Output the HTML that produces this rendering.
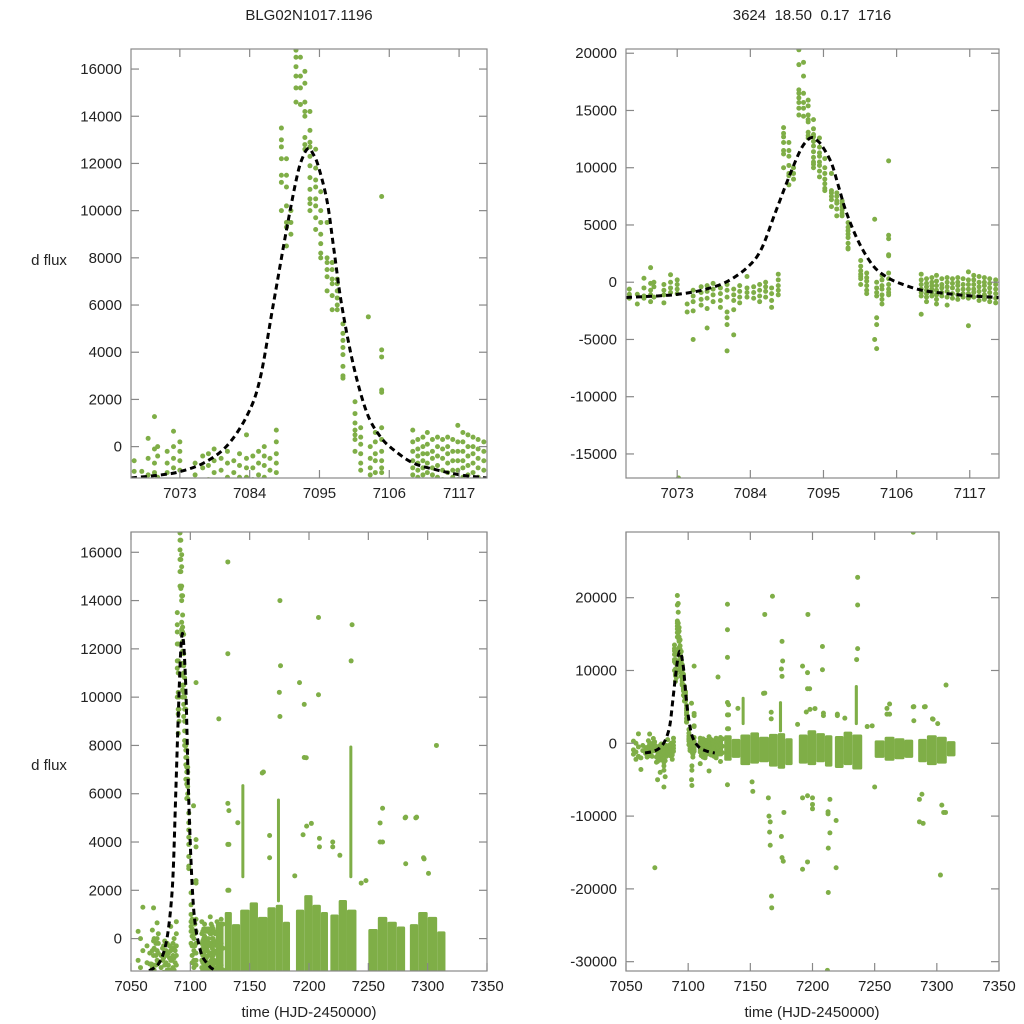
<!DOCTYPE html>
<html><head><meta charset="utf-8"><style>
html,body{margin:0;padding:0;background:#fff;width:1024px;height:1024px;overflow:hidden;}
svg{display:block;font-family:"Liberation Sans",sans-serif;}
</style></head><body>
<svg id="chart" width="1024" height="1024" viewBox="0 0 1024 1024">
<rect x="0" y="0" width="1024" height="1024" fill="#fff"/>
<text x="309" y="20" text-anchor="middle" font-size="15" fill="#222">BLG02N1017.1196</text>
<text x="812" y="20" text-anchor="middle" font-size="15" fill="#222" xml:space="preserve">3624  18.50  0.17  1716</text>
<text x="49" y="265" text-anchor="middle" font-size="15" fill="#222">d flux</text>
<text x="49" y="770" text-anchor="middle" font-size="15" fill="#222">d flux</text>
<text x="309" y="1017" text-anchor="middle" font-size="15" fill="#222">time (HJD-2450000)</text>
<text x="812" y="1017" text-anchor="middle" font-size="15" fill="#222">time (HJD-2450000)</text>
</svg>
<script>
// ---- data ----
const groupTime=[7065.8,7067.0,7068.0,7069.0,7069.5,7071.0,7072.0,7073.0,7074.5,7075.4,7076.6,7077.5,7078.4,7079.5,7080.5,7081.5,7082.4,7083.5,7084.5,7085.4,7086.3,7087.2,7088.2,
7089.0,7089.8,7090.5,7091.3,7092.0,7092.7,7093.5,7094.4,7095.2,7096.2,7097.0,7097.8,7098.7,7100.6,7101.5,7102.7,7103.0,7103.8,7104.8,
7109.7,7110.5,7111.3,7112.0,7112.8,7113.6,7114.4,7115.2,7116.0,7116.8,7117.6,7118.4,7119.2,7120.0,7120.9,
7056,7058,7060,7062,7063.5,7122.5,7124,7126,7127.5];
const groupFlux=[
[-600,-1050,-1400],[-1050,-1900],[350,-500,-1200,-1400],[1270,-100,-700,-1100,-1700],[0,-400,-1300],[-200,-700,-1100,-1800],[650,0,-500,-900],[200,-200,-600,-1000],
[-1900,-2600],[-700,-1200,-1700,-2500,-5000],[-400,-900,-1500,-2000],[-300,-800,-1400,-2300,-4000],[-100,-600,-1100,-1700],[-500,-1000,-1600,-2200],
[-200,-700,-1300,-2600,-3100,-3700,-6000],[-600,-1100,-1600,-2400,-4600],[-300,-800,-1300,-1800],[500,-500,-900,-1300],[-400,-900,-1400],[-200,-700,-1200,-1700],
[0,-400,-800,-1300],[-500,-1000,-1600,-2200],[700,200,-300,-700,-1100],
[13500,13000,12700,12200,11500,11200,10000],[12200,11500,11000,10200,9500,9300,8500],[10000,9500,9000],
[20300,19000,16800,16500,16100,15700,15200,14600],[19200,18000,16500,15700,15200,14500],[15900,15400,14600,14200,14000,13100,12800,12600],
[14200,13400,12900,12700,12300,11900,11400,10900,10500,10300,10000],[12600,11800,11300,11000,10500,10200,9700,9200],[10800,10000,9500,9000,8600,8200,8000],
[9500,8000,7800,7500,7200,6600],[7800,7500,7100,6900,6400,5800],[7100,6900,6600,6300,6000,5800],[5200,4800,4500,4200,3900,3400,3000,2900],
[1900,1400,1000,700,500,300,-200],[800,400,100,-300,-700,-1000],[5500,-5000],[0,-500,-900,-1200,-3100,-3700,-5800],[600,200,-300,-600,-1100,-1500,-1900],
[10600,4100,3800,2400,2300,800,300,-200,-600,-900,-1100],
[-2800,700,200,-200,-600,-900,-1200],[300,-100,-400,-700,-1000,-1300,-1700],[400,0,-300,-600,-900,-1200],[600,100,-300,-700,-1100,-1500,-1900],[300,-200,-500,-900,-1200],
[400,0,-400,-800,-1300,-2000],[300,-100,-500,-1000,-1400],[400,0,-300,-700,-1100,-1500],[300,-200,-600,-1000,-1300],[900,200,-200,-600,-1000,-1400,-3800],
[600,200,-200,-600,-900,-1300],[500,0,-400,-800,-1200,-1600],[400,0,-300,-700,-1100,-1500],[300,-100,-500,-900,-1300,-1700],[200,-200,-600,-1000,-1400,-1800],
[-900,-1500,300],[-2200,-1200,0],[-1800,-500,1300],[-3600,-2000],[-1000,-300],[700,-300,-1200,-2000],[9100,500,-500,-1500],[800,-200,-1100,-2500],[600,-400,-1300]];
const extraTime=[7073.2,7131.6,7131.6,7131.6,7131.6,7131.6,7131.6,7131.6,7161.6,7161.6,7167.8,7175.5,7176,7175,7175.5,7165,7165.5,7166,7167,7167.2,7164.5,7166,
7175,7175.5,7176.5,7177,7196.3,7192,7196,7196,7208,7208,7192,7196,7192,7196,7200,7200,7200,7212.7,7212.7,7212.5,7212.5,7214,7214,7219,7219,
7236.3,7236.3,7236.3,7235.5,7281,7262,7262,7281,7290,7286,7289,7286,7288,7307.4,7302.9,7304,7305.5,7307,7297,7300.7,7151.4,7152,7250,7212,
7160.6,7166.8,7166.8,7197.7,7202,7195,7208.8,7208.8,7220,7220,7226,7259.9,7259.9,7281.5,7290.7,7281.5,7296.5,7198,7132.5,7132.5,7132.5,7140,7188,7244,7248];
const extraFlux=[-17100,19100,15600,11800,5600,3900,-5700,2000,6900,17700,20200,14000,11300,10200,9200,-10000,-12200,-14000,-21000,-22600,-7500,-10800,
-12800,-15700,-16200,-9500,17700,10600,9700,7500,13300,10100,-17300,-16300,-7500,-7200,-7500,-8400,-9000,-20500,-14400,-9400,-9700,-12300,-7700,-17100,-10600,
22800,19000,13000,11500,29000,5400,4000,5000,5000,-10800,-11000,-7700,-7000,8000,-18100,-8500,-9500,-9500,3300,2700,-5300,-6600,-6000,-31200,
6860,4270,3350,7490,4770,4300,4150,3800,4000,3800,3450,4790,4000,5030,5030,3100,3350,4660,5300,3900,2000,4800,2600,2300,2400];
const bandStart=[7121.5,7129,7135,7142,7150,7157,7165,7172,7178,7189,7196,7203,7210,7218,7225,7232,7250,7258,7266,7274,7285,7292,7300,7308,7143,7173,7234];
const bandEnd  =[7128,7135,7142,7150,7157,7165,7172,7178,7184,7196,7203,7210,7216,7225,7232,7240,7258,7266,7274,7281,7292,7300,7308,7315,7145,7175.5,7236.5];
const bandLow  =[-1800,-2400,-2000,-3000,-2800,-2600,-3200,-3500,-3000,-2800,-3000,-2600,-3200,-3400,-3000,-3600,-2000,-2400,-2200,-2000,-2600,-3000,-2800,-1800,2500,1500,2500];
const bandHigh =[700,1100,600,1200,1500,900,1300,1400,700,1200,1800,1400,1100,1000,1600,1200,400,900,700,500,600,1100,900,300,6400,5800,8000];
const modelTime=[7065.3,7070,7073,7076.7,7080.3,7083.5,7085.6,7087.7,7089.8,7091.5,7092.5,7093.3,7094.0,7094.8,7096.2,7097.3,7098.5,7100.4,7102.5,7104.6,7106.7,7109.8,7113.5,7117.2,7121.4];
const modelFlux=[-1330,-1200,-1060,-700,0,1270,2830,5990,9180,11500,12350,12640,12400,11900,10400,8300,6000,3390,1415,420,-140,-700,-990,-1200,-1330];
// ---- tick label arrays ----
const zoomXTicks=[7073,7084,7095,7106,7117];
const fullXTicks=[7050,7100,7150,7200,7250,7300,7350];
const tlYTicks=[0,2000,4000,6000,8000,10000,12000,14000,16000];
const trYTicks=[-15000,-10000,-5000,0,5000,10000,15000,20000];
const blYTicks=[0,2000,4000,6000,8000,10000,12000,14000,16000];
const brYTicks=[-30000,-20000,-10000,0,10000,20000];

const panels=[
 {id:'top-left',x0:131,x1:487,y0:49,y1:478,tmin:7065.3,tmax:7121.4,fmin:-1330,fmax:16850,xt:zoomXTicks,yt:tlYTicks},
 {id:'top-right',x0:626,x1:999,y0:49,y1:478,tmin:7065.3,tmax:7121.4,fmin:-17100,fmax:20370,xt:zoomXTicks,yt:trYTicks},
 {id:'bottom-left',x0:131,x1:487,y0:532,y1:971,tmin:7050,tmax:7350,fmin:-1342,fmax:16840,xt:fullXTicks,yt:blYTicks},
 {id:'bottom-right',x0:626,x1:999,y0:532,y1:971,tmin:7050,tmax:7350,fmin:-31280,fmax:29025,xt:fullXTicks,yt:brYTicks}
];
const NS='http://www.w3.org/2000/svg';
const svg=document.getElementById('chart');
const GREEN='#7fae47';
function mk(tag,attrs,parent){const e=document.createElementNS(NS,tag);for(const k in attrs)e.setAttribute(k,attrs[k]);parent.appendChild(e);return e;}
const defs=mk('defs',{},svg);
function catmull(pts){let d='M'+pts[0][0]+','+pts[0][1];for(let i=0;i<pts.length-1;i++){const p0=pts[i-1]||pts[i],p1=pts[i],p2=pts[i+1],p3=pts[i+2]||p2;
 d+=' C'+(p1[0]+(p2[0]-p0[0])/6)+','+(p1[1]+(p2[1]-p0[1])/6)+' '+(p2[0]-(p3[0]-p1[0])/6)+','+(p2[1]-(p3[1]-p1[1])/6)+' '+p2[0]+','+p2[1];}return d;}
panels.forEach(p=>{
 const X=t=>p.x0+(t-p.tmin)/(p.tmax-p.tmin)*(p.x1-p.x0);
 const Y=f=>p.y1-(f-p.fmin)/(p.fmax-p.fmin)*(p.y1-p.y0);
 const cp=mk('clipPath',{id:'clip-'+p.id},defs);
 mk('rect',{x:p.x0,y:p.y0,width:p.x1-p.x0,height:p.y1-p.y0},cp);
 const g=mk('g',{},svg);
 
 
 const data=mk('g',{'clip-path':'url(#clip-'+p.id+')'},g);
 
 
 for(let i=0;i<bandStart.length;i++){
  const w=Math.max(3,X(bandEnd[i])-X(bandStart[i]));
  const r=mk('rect',{x:X(bandStart[i]),y:Y(bandHigh[i]),width:w,height:Y(bandLow[i])-Y(bandHigh[i]),fill:GREEN,rx:1.5},data);
  
  
 }
 for(let i=0;i<groupTime.length;i++){
  groupFlux[i].forEach(f=>{
   const c=mk('circle',{cx:X(groupTime[i]),cy:Y(f),r:2.5,fill:GREEN},data);
   
   
  });
 }
 for(let i=0;i<extraTime.length;i++){
  const c=mk('circle',{cx:X(extraTime[i]),cy:Y(extraFlux[i]),r:2.5,fill:GREEN},data);
  
  
 }
 const pts=modelTime.map((t,i)=>[X(t),Y(modelFlux[i])]);
 const line=mk('path',{d:catmull(pts),fill:'none',stroke:'#000','stroke-width':3,'stroke-dasharray':'6 4'},data);
 
 
 const fr=mk('rect',{x:p.x0,y:p.y0,width:p.x1-p.x0,height:p.y1-p.y0,fill:'none',stroke:'#888','stroke-width':1.2},g);
 
 
 p.xt.forEach(t=>{
  const x=X(t);
  mk('line',{x1:x,x2:x,y1:p.y1,y2:p.y1-8,stroke:'#888','stroke-width':1.2},g);
  mk('line',{x1:x,x2:x,y1:p.y0,y2:p.y0+8,stroke:'#888','stroke-width':1.2},g);
  const tx=mk('text',{x:x,y:p.y1+20,'text-anchor':'middle','font-size':15,fill:'#222'},g);
  tx.textContent=t;
  
  
 });
 p.yt.forEach(f=>{
  const y=Y(f);
  mk('line',{x1:p.x0,x2:p.x0+8,y1:y,y2:y,stroke:'#888','stroke-width':1.2},g);
  mk('line',{x1:p.x1,x2:p.x1-8,y1:y,y2:y,stroke:'#888','stroke-width':1.2},g);
  const ty=mk('text',{x:p.x0-9,y:y+5,'text-anchor':'end','font-size':15,fill:'#222'},g);
  ty.textContent=f;
  
  
 });
});
</script>
</body></html>
